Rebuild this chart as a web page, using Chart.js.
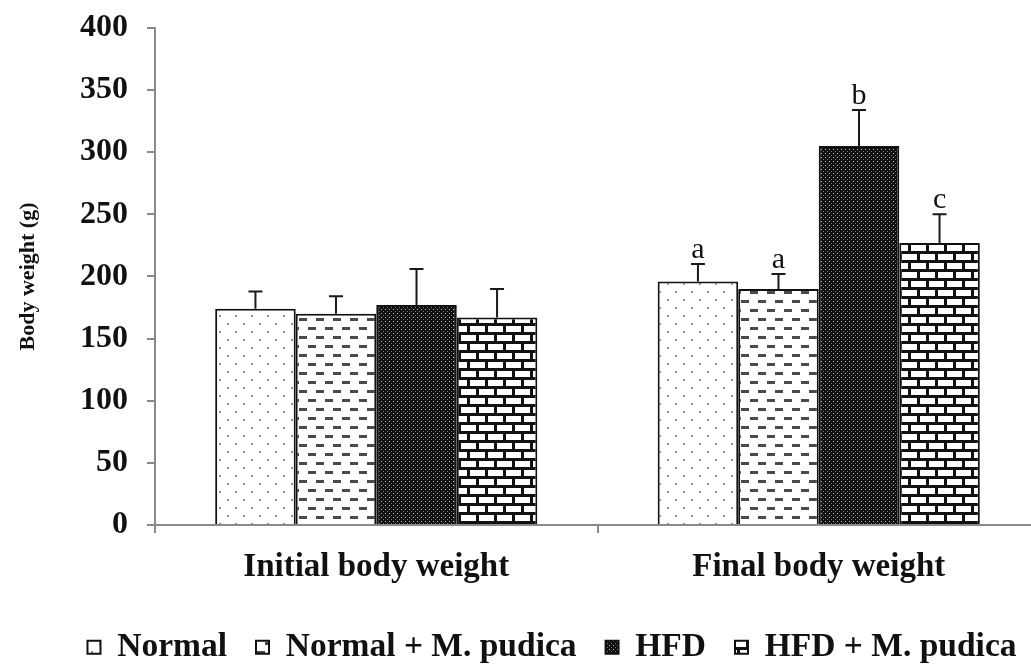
<!DOCTYPE html>
<html>
<head>
<meta charset="utf-8">
<script src="https://cdn.jsdelivr.net/npm/chart.js@4.4.1/dist/chart.umd.min.js"></script>
<style>
  html, body { margin: 0; padding: 0; background: #fff; overflow: hidden; }
  #wrap { position: relative; width: 1040px; height: 669px; }
</style>
</head>
<body>
<div id="wrap"><canvas id="bw"></canvas></div>
<script>
// ---- data ----
const CATEGORIES   = ['Initial body weight', 'Final body weight'];
const GROUPS       = ['Normal', 'Normal + M. pudica', 'HFD', 'HFD + M. pudica'];
const NORMAL       = [174, 196];
const NORMAL_MP    = [170, 190];
const HFD          = [177, 305];
const HFD_MP       = [167, 227];
const ERR_NORMAL   = [14, 14];
const ERR_NORMAL_MP= [14, 12];
const ERR_HFD      = [29, 29];
const ERR_HFD_MP   = [23, 23];
const SIG_NORMAL   = ['', 'a'];
const SIG_NORMAL_MP= ['', 'a'];
const SIG_HFD      = ['', 'b'];
const SIG_HFD_MP   = ['', 'c'];
const Y_TICKS      = [0, 50, 100, 150, 200, 250, 300, 350, 400];

const TIMES = '"Liberation Serif", "Times New Roman", serif';

// ── fill patterns ─────────────────────────────────────────
function makePattern(w, h, draw) {
  const c = document.createElement('canvas');
  c.width = w; c.height = h;
  const g = c.getContext('2d');
  draw(g, w, h);
  return document.getElementById('bw').getContext('2d').createPattern(c, 'repeat');
}

const PAT_DOTS = makePattern(16, 16, (g, w, h) => {
  g.fillStyle = '#fff'; g.fillRect(0, 0, w, h);
  g.fillStyle = '#8f8f8f';
  g.fillRect(3, 3, 2, 2);
  g.fillRect(11, 11, 2, 2);
});
const PAT_DASH = makePattern(17, 18, (g, w, h) => {
  g.fillStyle = '#fff'; g.fillRect(0, 0, w, h);
  g.fillStyle = '#4a4a4a';
  g.fillRect(2, 3, 8, 3);
  g.fillRect(10, 12, 7, 3);
  g.fillRect(0, 12, 1, 3);
});
const PAT_DARK = makePattern(4, 4, (g, w, h) => {
  g.fillStyle = '#111'; g.fillRect(0, 0, w, h);
  g.fillStyle = '#c4c4c4';
  g.fillRect(1, 1, 1, 1);
  g.fillStyle = '#777';
  g.fillRect(3, 3, 1, 1);
});
const PAT_BRICK = makePattern(18, 18, (g, w, h) => {
  g.fillStyle = '#111'; g.fillRect(0, 0, w, h);
  g.fillStyle = '#fff';
  g.fillRect(2, 2, 15, 6);
  g.fillRect(11, 11, 15, 6);
  g.fillRect(-7, 11, 15, 6);
});

// ── error bars + significance letters ────────────────────
const ERRORS  = [ERR_NORMAL, ERR_NORMAL_MP, ERR_HFD, ERR_HFD_MP];
const LETTERS = [SIG_NORMAL, SIG_NORMAL_MP, SIG_HFD, SIG_HFD_MP];

const errorBarPlugin = {
  id: 'errorBars',
  afterDatasetsDraw(chart) {
    const { ctx, scales: { y } } = chart;
    ctx.save();
    chart.data.datasets.forEach((ds, di) => {
      const meta = chart.getDatasetMeta(di);
      meta.data.forEach((bar, i) => {
        const top = y.getPixelForValue(ds.data[i] + ERRORS[di][i]);
        ctx.strokeStyle = '#1a1a1a';
        ctx.lineWidth = 2;
        ctx.beginPath();
        ctx.moveTo(bar.x, bar.y);
        ctx.lineTo(bar.x, top);
        ctx.moveTo(bar.x - 7, top);
        ctx.lineTo(bar.x + 7, top);
        ctx.stroke();
        const lt = LETTERS[di][i];
        if (lt) {
          ctx.fillStyle = '#111';
          ctx.font = '30px ' + TIMES;
          ctx.textAlign = 'center';
          ctx.textBaseline = 'alphabetic';
          ctx.fillText(lt, bar.x, top - 6);
        }
      });
    });
    ctx.restore();
  },
};

// nudge the legend row to the right, like the original figure
const legendShift = {
  id: 'legendShift',
  afterLayout(chart) {
    if (chart.legend) { chart.legend.left += 29; chart.legend.right += 29; }
  },
};

const FILLS = [PAT_DOTS, PAT_DASH, PAT_DARK, PAT_BRICK];
const SERIES = [NORMAL, NORMAL_MP, HFD, HFD_MP];

new Chart(document.getElementById('bw'), {
  type: 'bar',
  data: {
    labels: CATEGORIES,
    datasets: GROUPS.map((g, i) => ({
      label: g,
      data: SERIES[i],
      backgroundColor: FILLS[i],
      borderColor: '#111',
      borderWidth: 2,
      categoryPercentage: 0.728,
      barPercentage: 1.0,
    })),
  },
  options: {
    responsive: true, maintainAspectRatio: false, animation: false,
    layout: { padding: { left: 6, top: 3, right: 0, bottom: -5 } },
    plugins: {
      tooltip: { enabled: false },
      legend: {
        position: 'bottom',
        labels: {
          boxWidth: 13, boxHeight: 13, padding: 29, color: '#111',
          font: { family: TIMES, weight: 'bold', size: 33.5, lineHeight: 1.0 },
        },
      },
    },
    scales: {
      x: {
        offset: true,
        grid: { offset: true, drawOnChartArea: false, tickLength: 8, color: '#8a8a8a', lineWidth: 2 },
        border: { color: '#8a8a8a', width: 2 },
        ticks: { color: '#111', padding: 25, font: { family: TIMES, weight: 'bold', size: 33, lineHeight: 0.56 } },
      },
      y: {
        min: 0, max: 400,
        afterBuildTicks: axis => { axis.ticks = Y_TICKS.map(v => ({ value: v })); },
        afterFit: axis => { axis.width = 149; },
        grid: { drawOnChartArea: false, tickLength: 8, color: '#8a8a8a', lineWidth: 2 },
        border: { color: '#8a8a8a', width: 2 },
        ticks: { color: '#111', padding: 19, font: { family: TIMES, weight: 'bold', size: 32, lineHeight: 0.56 } },
        title: {
          display: true, text: 'Body weight (g)', color: '#111', padding: { top: 9, bottom: 0 },
          font: { family: TIMES, weight: 'bold', size: 22 },
        },
      },
    },
  },
  plugins: [errorBarPlugin, legendShift],
});
</script>
</body>
</html>
